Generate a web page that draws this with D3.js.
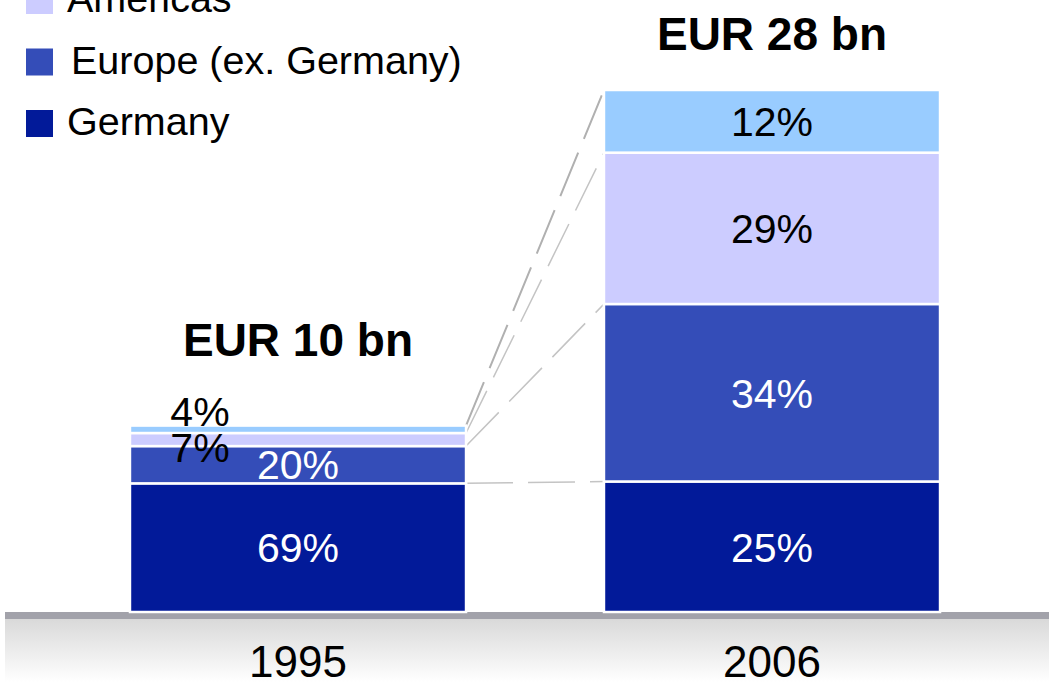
<!DOCTYPE html>
<html>
<head>
<meta charset="utf-8">
<script src="https://cdn.jsdelivr.net/npm/d3@7"></script>
<style>
  body { margin: 0; background: #fff; }
  svg { display: block; font-family: "Liberation Sans", Arial, sans-serif; }
</style>
</head>
<body>
<svg width="1049" height="682"></svg>
<script>
var years = ["1995", "2006"];
var totals = [10, 28];               // EUR bn
var series = ["Germany", "Europe (ex. Germany)", "Americas", "Asia/Pacific"];
var colors = ["#021a99", "#344db8", "#ccccff", "#99ccff"];
var shares = {
  "1995": [69, 20, 7, 4],
  "2006": [25, 34, 29, 12]
};
var legendItems = ["Americas", "Europe (ex. Germany)", "Germany"];

var svg = d3.select("svg"),
    width = +svg.attr("width"),
    height = +svg.attr("height");

var x = d3.scaleBand()
    .domain(years)
    .range([61, 1009])
    .paddingInner(0.291)
    .paddingOuter(0.1455);

var y = d3.scaleLinear()
    .domain([0, 28])
    .range([612, 90]);

// ground strip
var defs = svg.append("defs");
var grad = defs.append("linearGradient")
    .attr("id", "ground")
    .attr("x1", 0).attr("y1", 0).attr("x2", 0).attr("y2", 1);
grad.append("stop").attr("offset", "0%").attr("stop-color", "#d9d9d9");
grad.append("stop").attr("offset", "100%").attr("stop-color", "#ffffff");

svg.append("rect")
    .attr("x", 5).attr("y", y(0) + 7)
    .attr("width", width - 5).attr("height", height - y(0) - 7)
    .attr("fill", "url(#ground)");
svg.append("rect")
    .attr("x", 5).attr("y", y(0))
    .attr("width", width - 5).attr("height", 7)
    .attr("fill", "#a2a2aa");

// stacked data per year
var stacks = years.map(function(yr, j) {
  var acc = 0;
  return shares[yr].map(function(p, i) {
    var v = totals[j] * p / 100;
    var d = { year: yr, i: i, pct: p, y0: acc, y1: acc + v };
    acc += v;
    return d;
  });
});

// connector lines between bars
var links = d3.range(series.length).map(function(i) {
  return { a: stacks[0][i], b: stacks[1][i] };
});
svg.append("g")
    .selectAll("line")
    .data(links)
    .enter().append("line")
      .attr("x1", function(d) { return x("1995") + x.bandwidth(); })
      .attr("y1", function(d) { return y(d.a.y1); })
      .attr("x2", x("2006"))
      .attr("y2", function(d) { return y(d.b.y1); })
      .attr("stroke", function(d) { return d.a.i == 3 ? "#b0b0b0" : "#c4c4c4"; })
      .attr("stroke-width", function(d) { return d.a.i == 3 ? 2 : 1.5; })
      .attr("stroke-dasharray", "47,15");

// bars
var segs = svg.append("g")
  .selectAll("g")
  .data(stacks)
  .enter().append("g");

segs.selectAll("rect")
  .data(function(d) { return d; })
  .enter().append("rect")
    .attr("x", function(d) { return x(d.year); })
    .attr("y", function(d) { return y(d.y1); })
    .attr("width", x.bandwidth())
    .attr("height", function(d) { return y(d.y0) - y(d.y1); })
    .attr("fill", function(d) { return colors[d.i]; })
    .attr("stroke", "#fff")
    .attr("stroke-width", 2.5);

// segment labels
segs.selectAll("text")
  .data(function(d) { return d; })
  .enter().append("text")
    .attr("font-size", 41)
    .attr("text-anchor", "middle")
    .attr("fill", function(d) { return d.i < 2 ? "#fff" : "#000"; })
    .attr("x", function(d) {
      var h = y(d.y0) - y(d.y1);
      return h < 30 ? x(d.year) + 70 : x(d.year) + x.bandwidth() / 2;
    })
    .attr("y", function(d) {
      var h = y(d.y0) - y(d.y1);
      if (h < 30) return d.i == 3 ? y(d.y1) : y(d.y0) + 16;
      return (y(d.y0) + y(d.y1)) / 2;
    })
    .attr("dy", function(d) {
      var h = y(d.y0) - y(d.y1);
      return h < 30 ? 0 : "0.36em";
    })
    .text(function(d) { return d.pct + "%"; });

// totals
svg.append("g")
  .selectAll("text")
  .data(years)
  .enter().append("text")
    .attr("x", function(d) { return x(d) + x.bandwidth() / 2; })
    .attr("y", function(d, j) { return Math.max(y(totals[j]) - 70, 50); })
    .attr("text-anchor", "middle")
    .attr("font-size", 46)
    .attr("font-weight", "bold")
    .text(function(d, j) { return "EUR " + totals[j] + " bn"; });

// year labels
svg.append("g")
  .selectAll("text")
  .data(years)
  .enter().append("text")
    .attr("x", function(d) { return x(d) + x.bandwidth() / 2; })
    .attr("y", 677)
    .attr("text-anchor", "middle")
    .attr("font-size", 44)
    .text(function(d) { return d; });

// legend
var legend = svg.append("g")
  .selectAll("g")
  .data(legendItems)
  .enter().append("g")
    .attr("transform", function(d, i) { return "translate(26," + (-13 + i * 61.5) + ")"; });

legend.append("rect")
    .attr("width", 27).attr("height", 27)
    .attr("fill", function(d) { return colors[series.indexOf(d)]; });

legend.append("text")
    .attr("x", function(d, i) { return i == 1 ? 45 : 41; })
    .attr("y", 25)
    .attr("font-size", 39.5)
    .text(function(d) { return d; });
</script>
</body>
</html>
